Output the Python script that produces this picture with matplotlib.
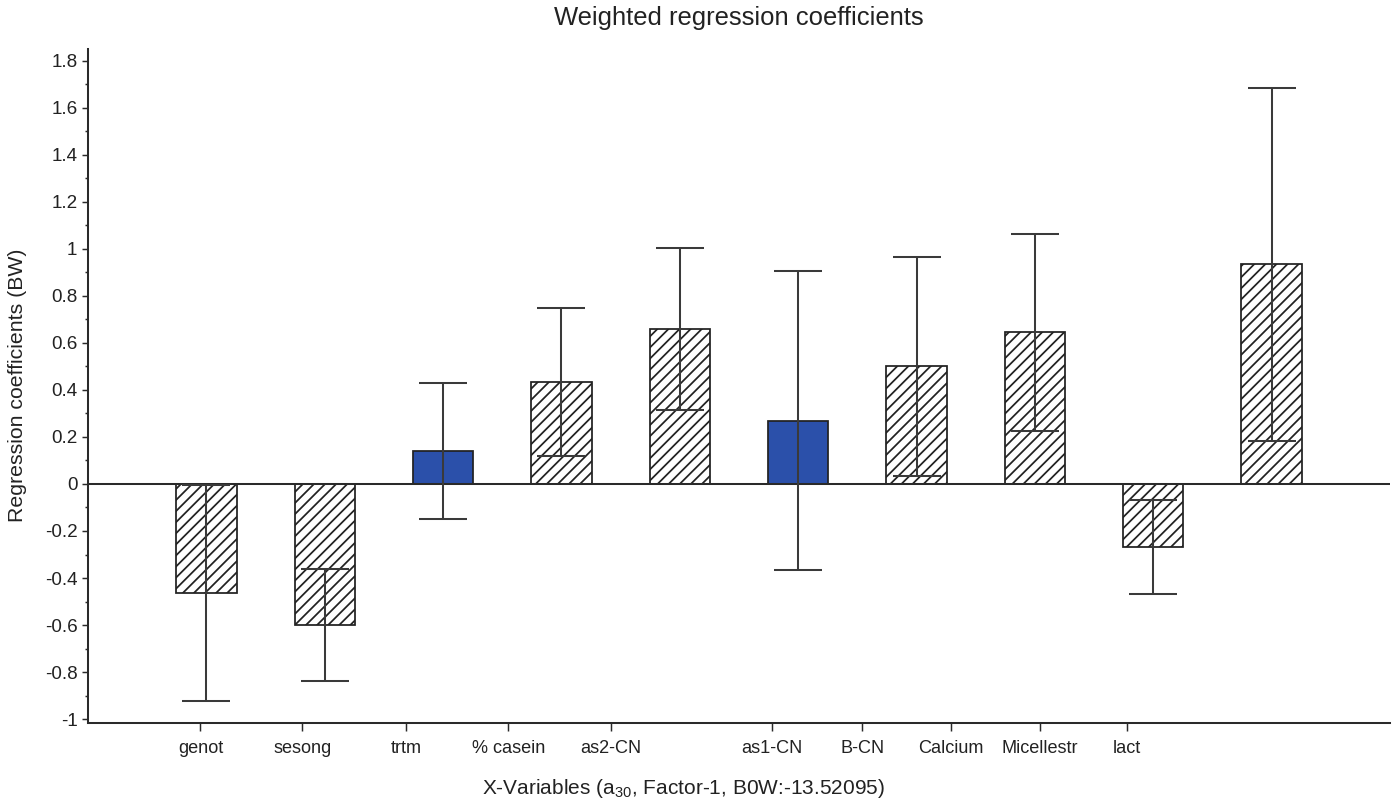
import matplotlib
matplotlib.use("Agg")
import matplotlib.pyplot as plt
from matplotlib.ticker import MultipleLocator, FuncFormatter

# Regression coefficients per X-variable with their uncertainty (half-width)
variables = ["genot", "sesong", "trtm", "% casein", "as2-CN", "as1-CN",
             "B-CN", "Calcium", "Micellestr", "lact"]
coefficients = [-0.465, -0.60, 0.14, 0.435, 0.66, 0.27, 0.50, 0.645, -0.27, 0.935]
uncertainty = [0.46, 0.24, 0.29, 0.315, 0.345, 0.635, 0.465, 0.42, 0.20, 0.75]
significant = [False, False, True, False, False, True, False, False, False, False]

# where the category labels sit along the x axis (bar index units)
label_positions = [-0.05, 0.81, 1.69, 2.55, 3.42, 4.78, 5.54, 6.29, 7.04, 7.78]

plt.rcParams["font.family"] = ["Liberation Sans", "DejaVu Sans"]
plt.rcParams["mathtext.fontset"] = "custom"
plt.rcParams["mathtext.rm"] = "Liberation Sans"
plt.rcParams["mathtext.it"] = "Liberation Sans:italic"
plt.rcParams["axes.unicode_minus"] = False
plt.rcParams["hatch.linewidth"] = 0.95
plt.rcParams["hatch.color"] = "#222222"

DPI = 133
fig = plt.figure(figsize=(1392 / DPI, 805 / DPI), dpi=DPI)
ax = fig.add_axes([88 / 1392, 1 - 723 / 805, (1390 - 88) / 1392, (723 - 49) / 805])

ink = "#2a2a2a"
blue = "#2B50AA"

x = list(range(len(variables)))
bars = ax.bar(x, coefficients, width=0.51, color="white", edgecolor="#222222",
              linewidth=0.95, zorder=2)
for patch, sig in zip(bars, significant):
    if sig:
        patch.set_facecolor(blue)
    else:
        patch.set_hatch("////")

ax.axhline(0, color=ink, lw=1.1, zorder=2.5)

ax.errorbar(x, coefficients, yerr=uncertainty, fmt="none", ecolor="#3a3a3a",
            elinewidth=1.1, capsize=13, capthick=1.1, zorder=3)

ax.set_xlim(-1.0, 10.0)
ax.set_ylim(-1.017, 1.851)

ax.yaxis.set_major_locator(MultipleLocator(0.2))
ax.yaxis.set_minor_locator(MultipleLocator(0.1))
ax.yaxis.set_major_formatter(FuncFormatter(lambda v, p: f"{round(v, 1):g}"))
ax.set_xticks(label_positions)
ax.set_xticklabels(variables)

for side in ("top", "right"):
    ax.spines[side].set_visible(False)
for side in ("left", "bottom"):
    ax.spines[side].set_color(ink)
    ax.spines[side].set_linewidth(1.1)

ax.tick_params(axis="y", which="major", direction="out", length=3.2, width=0.8,
               color=ink, labelsize=10.2, labelcolor="#222222", pad=2.5)
ax.tick_params(axis="y", which="minor", direction="out", length=1.6, width=0.8, color=ink)
ax.tick_params(axis="x", which="major", direction="out", length=4.3, width=0.8,
               color=ink, labelsize=9.8, labelcolor="#222222", pad=5)

fig.text(739 / 1392, 1 - 18 / 805, "Weighted regression coefficients",
         ha="center", va="center", fontsize=13.9, color="#222222")
fig.text(18 / 1392, 1 - 385 / 805, "Regression coefficients (BW)", rotation=90,
         ha="center", va="center", fontsize=11.5, color="#222222")
fig.text(683 / 1392, 1 - 789 / 805,
         r"X-Variables (a$_{\mathrm{30}}$, Factor-1, B0W:-13.52095)",
         ha="center", va="center", fontsize=11.3, color="#222222")

fig.savefig("out.png", dpi=DPI)
